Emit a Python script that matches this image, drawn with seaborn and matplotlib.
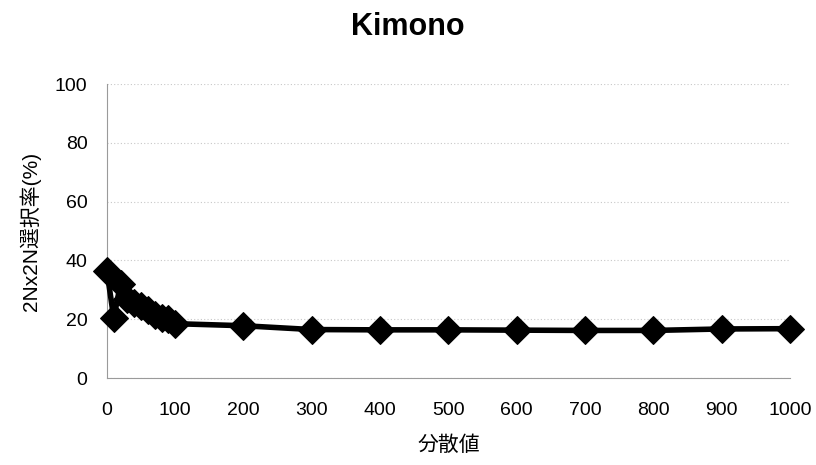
import matplotlib
matplotlib.use("Agg")
import matplotlib.pyplot as plt
import seaborn as sns
import pandas as pd

# values
variance = [0, 10, 20, 30, 40, 50, 60, 70, 80, 90, 100,
            200, 300, 400, 500, 600, 700, 800, 900, 1000]
rate = [36.5, 20.5, 32, 27, 25.5, 24.5, 23, 21.5, 20.5, 20, 18.5,
        17.8, 16.5, 16.4, 16.4, 16.3, 16.2, 16.2, 16.7, 16.8]
xticks = [0, 100, 200, 300, 400, 500, 600, 700, 800, 900, 1000]
yticks = [0, 20, 40, 60, 80, 100]

data = pd.DataFrame({"variance": variance, "rate": rate})

sns.set_style("white")
plt.rcParams['font.family'] = ['Liberation Sans', 'Noto Sans CJK JP', 'DejaVu Sans']
plt.rcParams['text.color'] = 'black'
plt.rcParams['xtick.color'] = 'black'
plt.rcParams['ytick.color'] = 'black'
plt.rcParams['axes.labelcolor'] = 'black'

fig = plt.figure(figsize=(8.16, 4.65), dpi=100)
ax = fig.add_axes([0.131, 0.187, 0.837, 0.632])

sns.lineplot(x="variance", y="rate", data=data, ax=ax, color="black",
             linewidth=4, marker="D", markersize=14, markeredgecolor="black",
             clip_on=False, zorder=3)

ax.set_xlim(0, 1000)
ax.set_ylim(0, 100)
ax.set_xticks(xticks)
ax.set_yticks(yticks)
ax.tick_params(axis="both", length=0, labelsize=14, pad=17)
ax.tick_params(axis="y", pad=14)
ax.grid(axis="y", color="#c8c8c8", linestyle=(0, (1, 2)), linewidth=0.8)

for side in ["top", "right"]:
    ax.spines[side].set_visible(False)
for side in ["left", "bottom"]:
    ax.spines[side].set_color("#9a9a9a")
    ax.spines[side].set_linestyle((0, (1, 1)))
    ax.spines[side].set_linewidth(0.8)

# title is centred on the whole figure, not on the plot area
fig.suptitle("Kimono", fontsize=22, fontweight="bold", x=0.5, y=0.975)
ax.set_xlabel("分散値", fontsize=15, labelpad=12)
ax.set_ylabel("2Nx2N選択率(%)", fontsize=15, labelpad=10)

plt.savefig("out.png", dpi=100)
